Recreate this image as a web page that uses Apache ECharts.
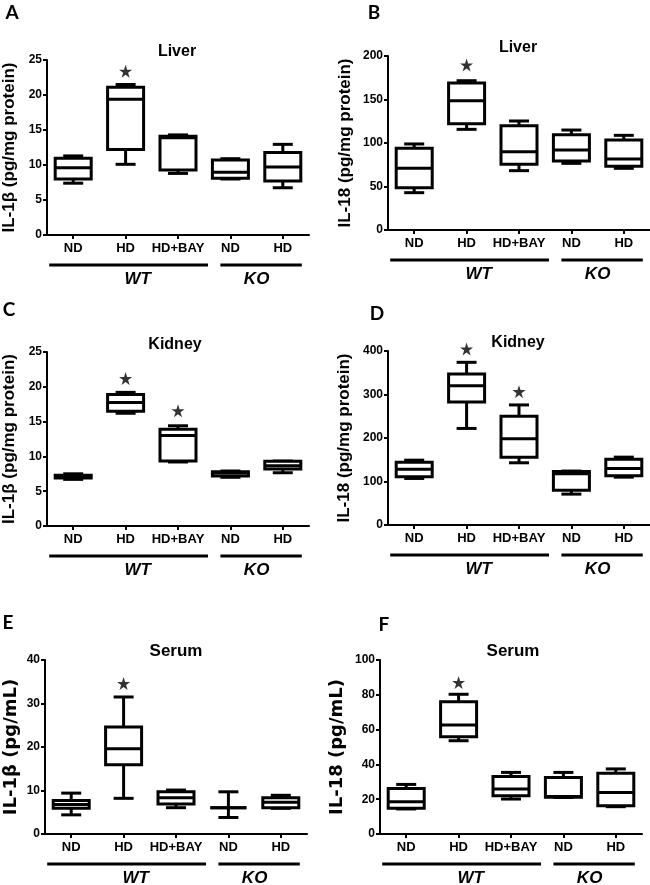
<!DOCTYPE html>
<html>
<head>
<meta charset="utf-8">
<script src="https://cdn.jsdelivr.net/npm/echarts@6/dist/echarts.min.js"></script>
<style>
html,body{margin:0;padding:0;background:#fff;}
#chart{width:650px;height:885px;}
</style>
</head>
<body>
<div id="chart"></div>
<script>
// ---------- DATA ----------
const categories = ['ND', 'HD', 'HD+BAY', 'ND', 'HD'];
const groupSpans = [[0, 2], [3, 4]];
const groupLabels = ['WT', 'KO'];

// each row: [min, q1, median, q3, max]
const liverIL1b = [[7.4, 8.0, 9.6, 10.95, 11.3], [10.1, 12.2, 19.4, 21.1, 21.5], [8.8, 9.3, 13.9, 14.1, 14.3], [8.0, 8.1, 8.95, 10.7, 10.9], [6.75, 7.7, 9.7, 11.8, 12.95]];
const liverIL18 = [[42.9, 48.7, 70.9, 93.9, 98.9], [115.7, 122.2, 148.7, 169, 171.6], [68.2, 75.5, 90, 119.9, 125.3], [76.6, 79.3, 92, 109.6, 114.9], [70.9, 73.2, 81.6, 103.4, 108.8]];
const kidneyIL1b = [[6.7, 6.9, 7.1, 7.3, 7.5], [16.2, 16.5, 17.75, 18.9, 19.2], [9.2, 9.33, 13.0, 13.9, 14.4], [7.0, 7.2, 7.6, 7.8, 7.9], [7.65, 8.2, 8.66, 9.3, 9.33]];
const kidneyIL18 = [[107, 111, 128, 144, 149], [222, 283, 320, 347, 374], [143, 156, 198, 250, 276], [71, 80, 118, 123, 124], [110, 113, 130, 151, 156]];
const serumIL1b = [[4.4, 5.9, 6.8, 7.7, 9.4], [8.2, 15.9, 19.6, 24.6, 31.5], [6.05, 6.9, 8.35, 9.7, 10.1], [3.8, 6.05, 6.05, 6.05, 9.7], [5.9, 6.05, 7.3, 8.35, 8.9]];
const serumIL18 = [[14.4, 14.75, 18.6, 26.2, 28.5], [53.6, 55.9, 62.6, 76, 80.3], [20.1, 22, 25.9, 33, 35.4], [21.0, 21.1, 21.6, 32.4, 35.4], [15.7, 16.3, 23.9, 34.9, 37.4]];

// significance stars: [categoryIndex, value]
const starsA = [[1, 23.4]];
const starsB = [[1, 189.7]];
const starsC = [[1, 21.2], [2, 16.55]];
const starsD = [[1, 404.6], [2, 306.5]];
const starsE = [[1, 34.6]];
const starsF = [[1, 87]];

// y-axis ranges [min, max, step]
const yRangeA = [0, 25, 5];
const yRangeB = [0, 200, 50];
const yRangeC = [0, 25, 5];
const yRangeD = [0, 400, 100];
const yRangeE = [0, 40, 10];
const yRangeF = [0, 100, 20];

const titles = ['Liver', 'Liver', 'Kidney', 'Kidney', 'Serum', 'Serum'];
const letters = ['A', 'B', 'C', 'D', 'E', 'F'];
const yNames = ['IL-1β (pg/mg protein)', 'IL-18 (pg/mg protein)', 'IL-1β (pg/mg protein)', 'IL-18 (pg/mg protein)', 'IL-1β (pg/mL)', 'IL-18 (pg/mL)'];

// ---------- LAYOUT / STYLE ----------
const panelData = [liverIL1b, liverIL18, kidneyIL1b, kidneyIL18, serumIL1b, serumIL18];
const panelStars = [starsA, starsB, starsC, starsD, starsE, starsF];
const panelRanges = [yRangeA, yRangeB, yRangeC, yRangeD, yRangeE, yRangeF];
const layout = [
  {grid: {left: 47, top: 60, width: 262, height: 175}, title: [177, 52], letter: [12, 13], nameGap: 29, nameFont: 17, nameFamily: 'Liberation Sans', titleSize: 16},
  {grid: {left: 388, top: 56, width: 262, height: 174}, title: [518, 48], letter: [374, 13], nameGap: 34, nameFont: 17, nameFamily: 'Liberation Sans', titleSize: 16},
  {grid: {left: 47, top: 352, width: 262, height: 174}, title: [175, 345], letter: [9, 310], nameGap: 29, nameFont: 17, nameFamily: 'Liberation Sans', titleSize: 16},
  {grid: {left: 388, top: 351, width: 262, height: 174}, title: [518, 343], letter: [377, 314], nameGap: 35, nameFont: 17, nameFamily: 'Liberation Sans', titleSize: 16},
  {grid: {left: 45, top: 660, width: 262, height: 174}, title: [176, 651], letter: [8, 623], nameGap: 25, nameFont: 18, nameFamily: 'DejaVu Sans', titleSize: 17},
  {grid: {left: 380, top: 660, width: 262, height: 174}, title: [513, 651], letter: [384, 625], nameGap: 34, nameFont: 18, nameFamily: 'DejaVu Sans', titleSize: 17}
];
const BOX_W = 36, CAP_W = 20, LW = 3;
const FONT = 'Liberation Sans, Arial, sans-serif';

function renderBox(params, api) {
  const i = api.value(0);
  const pMin = api.coord([i, api.value(1)]);
  const pQ1 = api.coord([i, api.value(2)]);
  const pMed = api.coord([i, api.value(3)]);
  const pQ3 = api.coord([i, api.value(4)]);
  const pMax = api.coord([i, api.value(5)]);
  const x = pMed[0];
  const hw = BOX_W / 2, cw = CAP_W / 2;
  const st = {stroke: '#000', lineWidth: LW, lineCap: 'butt'};
  return {
    type: 'group',
    children: [
      {type: 'line', shape: {x1: x, y1: pMax[1], x2: x, y2: pQ3[1]}, style: st},
      {type: 'line', shape: {x1: x, y1: pQ1[1], x2: x, y2: pMin[1]}, style: st},
      {type: 'line', shape: {x1: x - cw, y1: pMax[1], x2: x + cw, y2: pMax[1]}, style: st},
      {type: 'line', shape: {x1: x - cw, y1: pMin[1], x2: x + cw, y2: pMin[1]}, style: st},
      {type: 'rect', shape: {x: x - hw, y: pQ3[1], width: 2 * hw, height: pQ1[1] - pQ3[1]}, style: {stroke: '#000', lineWidth: LW, fill: '#fff'}},
      {type: 'line', shape: {x1: x - hw, y1: pMed[1], x2: x + hw, y2: pMed[1]}, style: st}
    ]
  };
}

function renderGroup(params, api) {
  const a = api.coord([api.value(0), 0]);
  const b = api.coord([api.value(1), 0]);
  const idx = params.dataIndex;
  const x1 = a[0] - (idx === 0 ? 24 : 10);
  const x2 = b[0] + (idx === 0 ? 30 : 19);
  const y = a[1] + 30;
  const tx = (a[0] + b[0]) / 2 + (idx === 0 ? 12 : 0);
  return {
    type: 'group',
    children: [
      {type: 'line', shape: {x1: x1, y1: y, x2: x2, y2: y}, style: {stroke: '#000', lineWidth: 3}},
      {type: 'text', x: tx, y: y + 14, style: {text: groupLabels[idx], font: 'italic bold 17px ' + FONT, fill: '#000', textAlign: 'center', textVerticalAlign: 'middle'}}
    ]
  };
}

const starPath = 'path://M50,0 L61.8,35.4 L100,35.4 L69.1,57.3 L80.9,93.1 L50,71.2 L19.1,93.1 L30.9,57.3 L0,35.4 L38.2,35.4 Z';

const grids = [], xAxes = [], yAxes = [], series = [], graphics = [];
layout.forEach((L, p) => {
  grids.push(Object.assign({outerBoundsMode: 'none', containLabel: false}, L.grid));
  xAxes.push({
    type: 'category', gridIndex: p, data: categories, boundaryGap: true,
    axisLine: {lineStyle: {color: '#000', width: 2}},
    axisTick: {show: true, alignWithLabel: true, length: 4, lineStyle: {color: '#000', width: 2}},
    axisLabel: {color: '#000', fontWeight: 'bold', fontSize: 13, fontFamily: FONT, margin: 7, interval: 0},
    splitLine: {show: false}
  });
  const r = panelRanges[p];
  yAxes.push({
    type: 'value', gridIndex: p, min: r[0], max: r[1], interval: r[2],
    name: yNames[p], nameLocation: 'middle', nameGap: L.nameGap,
    nameTextStyle: {color: '#000', fontWeight: 'bold', fontSize: L.nameFont, fontFamily: L.nameFamily},
    axisLine: {show: true, lineStyle: {color: '#000', width: 2}},
    axisTick: {show: true, length: 4, lineStyle: {color: '#000', width: 2}},
    axisLabel: {color: '#000', fontWeight: 'bold', fontSize: 12, fontFamily: FONT, margin: 5},
    splitLine: {show: false}
  });
  series.push({
    type: 'custom', xAxisIndex: p, yAxisIndex: p, renderItem: renderBox,
    encode: {x: 0, y: [1, 2, 3, 4, 5]},
    data: panelData[p].map((row, i) => [i].concat(row)),
    clip: false, silent: true
  });
  series.push({
    type: 'custom', xAxisIndex: p, yAxisIndex: p, renderItem: renderGroup,
    encode: {x: [0, 1], y: 2},
    data: groupSpans.map(s => [s[0], s[1], 0]),
    clip: false, silent: true
  });
  series.push({
    type: 'scatter', xAxisIndex: p, yAxisIndex: p, data: panelStars[p],
    symbol: starPath, symbolSize: 13, itemStyle: {color: '#000'}, clip: false, silent: true
  });
  graphics.push({type: 'text', x: L.title[0], y: L.title[1], style: {text: titles[p], font: 'bold ' + L.titleSize + 'px ' + FONT, fill: '#000', textAlign: 'center', textVerticalAlign: 'middle'}});
  graphics.push({type: 'text', x: L.letter[0], y: L.letter[1], style: {text: letters[p], font: 'bold 19px Lato, ' + FONT, fill: '#000', textAlign: 'center', textVerticalAlign: 'middle'}});
});

const chart = echarts.init(document.getElementById('chart'), null, {renderer: 'canvas'});
chart.setOption({
  backgroundColor: '#fff',
  animation: false,
  grid: grids,
  xAxis: xAxes,
  yAxis: yAxes,
  series: series,
  graphic: graphics
});
</script>
</body>
</html>
